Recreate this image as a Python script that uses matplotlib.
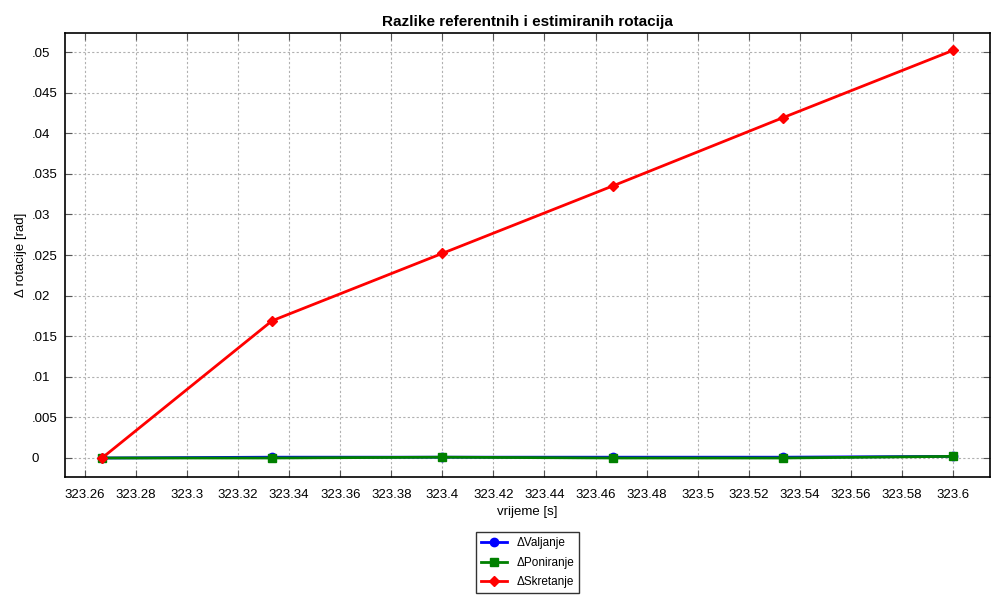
import numpy as np
import matplotlib
matplotlib.use("Agg")
import matplotlib.pyplot as plt
from matplotlib.ticker import MultipleLocator, FuncFormatter

plt.rcParams['font.family'] = ['Liberation Sans', 'DejaVu Sans']

# data
vrijeme = [323.2667, 323.3333, 323.4, 323.4667, 323.5333, 323.6]
d_valjanje = [0.0, 0.0001, 0.0001, 0.0001, 0.0001, 0.0002]
d_poniranje = [0.0, 0.0, 0.0001, 0.0, 0.0, 0.0002]
d_skretanje = [0.0, 0.0169, 0.0252, 0.0335, 0.0419, 0.0502]

fig = plt.figure(figsize=(10, 6), dpi=100)
ax = fig.add_axes([0.065, 0.205, 0.925, 0.74])

ax.plot(vrijeme, d_valjanje, 'o-', color='blue', lw=2, ms=6, label='ΔValjanje')
ax.plot(vrijeme, d_poniranje, 's-', color='green', lw=2, ms=6, label='ΔPoniranje')
ax.plot(vrijeme, d_skretanje, 'D-', color='red', lw=2, ms=5.5, label='ΔSkretanje')

ax.set_xlim(323.2522, 323.6145)
ax.set_ylim(-0.00234, 0.05234)
ax.xaxis.set_major_locator(MultipleLocator(0.02))
ax.yaxis.set_major_locator(MultipleLocator(0.005))

def fmt_x(v, pos):
    return '%g' % round(v, 4)

def fmt_y(v, pos):
    s = '%g' % round(v, 5)
    if s.startswith('0.'):
        s = s[1:]
    elif s == '-0':
        s = '0'
    return s

ax.xaxis.set_major_formatter(FuncFormatter(fmt_x))
ax.yaxis.set_major_formatter(FuncFormatter(fmt_y))
ax.tick_params(direction='in', top=True, right=True, length=5, labelsize=9.5,
               color='#555555')
ax.tick_params(axis='x', pad=9)
ax.tick_params(axis='y', pad=24)
for lbl in ax.get_yticklabels():
    lbl.set_horizontalalignment('left')
ax.grid(True, ls=(0, (2, 2)), color='#b0b0b0', lw=0.8)
for sp in ax.spines.values():
    sp.set_linewidth(1.2)

ax.set_title('Razlike referentnih i estimiranih rotacija', fontsize=11,
             fontweight='bold', pad=5)
ax.set_xlabel('vrijeme [s]', fontsize=9.5, labelpad=3)
ax.text(-0.048, 0.5, 'Δ rotacije [rad]', transform=ax.transAxes, rotation=90,
        ha='center', va='center', fontsize=9.5)

leg = ax.legend(loc='upper center', bbox_to_anchor=(0.5, -0.124), fontsize=8.5,
                frameon=True, fancybox=False, edgecolor='black', borderaxespad=0,
                handlelength=2.2, handletextpad=0.8, borderpad=0.45,
                labelspacing=0.62)
leg.get_frame().set_linewidth(1.0)

fig.savefig('out.png', dpi=100)
